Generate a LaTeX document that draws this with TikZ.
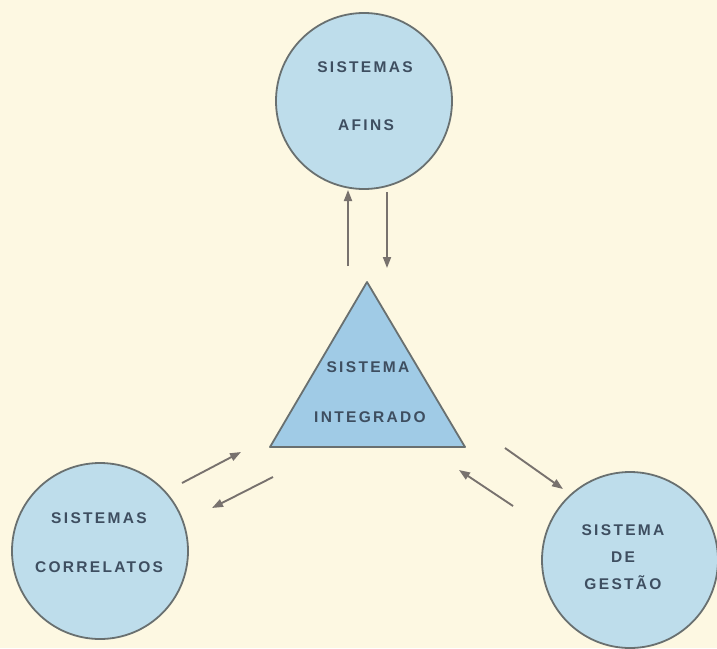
\documentclass[tikz,border=0pt]{standalone}
\usepackage{fontspec}
\usetikzlibrary{arrows.meta}
\newfontfamily\rotulo{Liberation Sans Bold}[LetterSpace=15]
\definecolor{papel}{RGB}{253,248,226}
\definecolor{azulclaro}{RGB}{190,221,235}
\definecolor{azultri}{RGB}{160,203,230}
\definecolor{contorno}{RGB}{105,112,112}
\definecolor{tinta}{RGB}{62,78,96}
\definecolor{seta}{RGB}{120,114,110}

\begin{document}
\begin{tikzpicture}[x=1pt,y=-1pt,
  sistema/.style={circle,draw=contorno,line width=1.8pt,fill=azulclaro,minimum size=176pt,inner sep=0pt},
  texto/.style={font=\rotulo\fontsize{15.5}{18}\selectfont,text=tinta,inner sep=0pt},
  fluxo/.style={draw=seta,line width=1.9pt,-{Triangle[length=11pt,width=8pt]}}]
 \fill[papel] (0,0) rectangle (717,648);
 \useasboundingbox (0,0) rectangle (717,648);
 % circulos
 \node[sistema] (afins) at (364,101) {};
 \node[sistema] (correlatos) at (100,551) {};
 \node[sistema] (gestao) at (630,560) {};
 % triangulo
 \coordinate (topo) at (367,282);
 \coordinate (esq) at (270,447);
 \coordinate (dir) at (465,447);
 \filldraw[fill=azultri,draw=contorno,line width=1.8pt,line join=round] (topo) -- (esq) -- (dir) -- cycle;
 % textos
 \node[texto] (t1) at (365,67) {SISTEMAS};
 \node[texto] (t2) at (366,125) {AFINS};
 \node[texto] (t3) at (368,367) {SISTEMA};
 \node[texto] (t4) at (370,417) {INTEGRADO};
 \node[texto] (t5) at (99,518) {SISTEMAS};
 \node[texto] (t6) at (99,567) {CORRELATOS};
 \node[texto,align=center] (t7) at (623,557) {SISTEMA\\[9pt]DE\\[9pt]GESTÃO};
 % setas
 \coordinate (a1) at (348,266); \coordinate (a2) at (348,190);
 \coordinate (b1) at (387,192); \coordinate (b2) at (387,268);
 \coordinate (c1) at (182,483); \coordinate (c2) at (241,452);
 \coordinate (d1) at (273,477); \coordinate (d2) at (212,508);
 \coordinate (e1) at (505,448); \coordinate (e2) at (563,489);
 \coordinate (f1) at (513,506); \coordinate (f2) at (459,470);
 \foreach \i/\j in {a1/a2,b1/b2,c1/c2,d1/d2,e1/e2,f1/f2}
   \draw[fluxo] (\i) -- (\j);
\end{tikzpicture}
\end{document}
